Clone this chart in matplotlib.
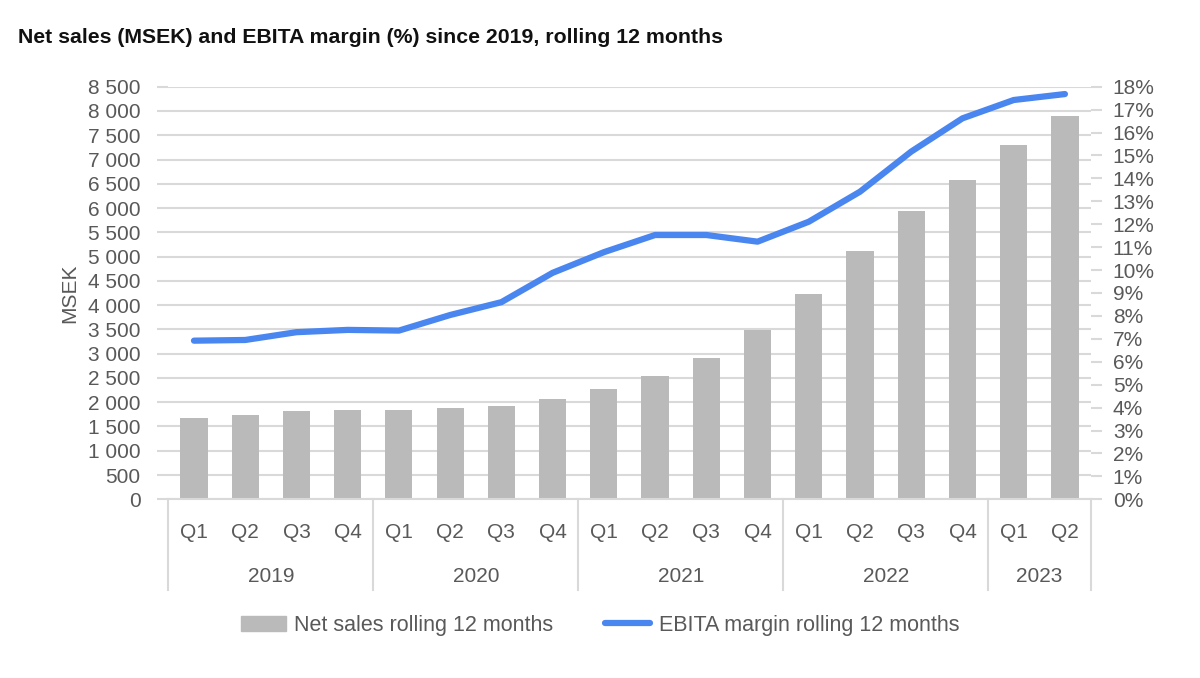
import numpy as np
import matplotlib
matplotlib.use('Agg')
import matplotlib.pyplot as plt
from matplotlib.ticker import FuncFormatter, MultipleLocator
from matplotlib.lines import Line2D
from matplotlib.patches import Patch

years = ['2019', '2020', '2021', '2022', '2023']
quarters = ['Q1', 'Q2', 'Q3', 'Q4'] * 4 + ['Q1', 'Q2']
quarters_per_year = [4, 4, 4, 4, 2]
net_sales = [1669, 1737, 1813, 1833, 1846, 1875, 1922, 2072, 2266,
             2546, 2917, 3488, 4236, 5115, 5946, 6572, 7293, 7903]
ebita_margin = [6.92, 6.95, 7.29, 7.39, 7.36, 8.04, 8.6, 9.88, 10.78,
                11.53, 11.53, 11.24, 12.11, 13.42, 15.17, 16.62, 17.42, 17.68]

bar_color = '#bababa'
line_color = '#4a86f0'
grid_color = '#d9d9d9'
text_color = '#595959'

plt.rcParams['font.family'] = ['Liberation Sans', 'DejaVu Sans']

fig = plt.figure(figsize=(12, 6.78), dpi=100)
ax = fig.add_axes([0.1403, 0.2636, 0.7685, 0.6085])
ax2 = ax.twinx()

x = np.arange(len(net_sales))
ax.bar(x, net_sales, width=0.53, color=bar_color, zorder=2)
ax2.plot(x, ebita_margin, color=line_color, linewidth=4.5,
         solid_capstyle='round', solid_joinstyle='round', zorder=3)

ax.set_xlim(-0.5, len(x) - 0.5)
ax.set_ylim(0, 8500)
ax2.set_ylim(0, 18)
ax.yaxis.set_major_locator(MultipleLocator(500))
ax2.yaxis.set_major_locator(MultipleLocator(1))
ax.yaxis.set_major_formatter(FuncFormatter(lambda v, p: f'{int(v):,}'.replace(',', ' ')))
ax2.yaxis.set_major_formatter(FuncFormatter(lambda v, p: f'{int(round(v))}%'))

ax.grid(axis='y', color=grid_color, linewidth=1.5, zorder=0)
ax.set_axisbelow(True)
for a in (ax, ax2):
    for s in a.spines.values():
        s.set_visible(False)
ax.spines['bottom'].set_visible(True)
ax.spines['bottom'].set_color(grid_color)
ax.spines['bottom'].set_linewidth(1.5)

ax.tick_params(axis='y', length=8, color=grid_color, width=1.5, pad=12,
               labelsize=15, labelcolor=text_color)
ax2.tick_params(axis='y', length=8, color=grid_color, width=1.5, pad=8,
                labelsize=15, labelcolor=text_color)
ax.set_xticks([])

ax.set_ylabel('MSEK', fontsize=15, color=text_color, labelpad=6)

# multi-level category axis
trans = ax.get_xaxis_transform()
for i, q in enumerate(quarters):
    ax.text(i, -0.08, q, transform=trans, ha='center', va='center',
            fontsize=15, color=text_color)
bounds = np.concatenate([[0], np.cumsum(quarters_per_year)]) - 0.5
for b in bounds:
    ax.add_line(Line2D([b, b], [0, -0.22], transform=trans, color=grid_color,
                       linewidth=1.5, clip_on=False))
for y, lo, hi in zip(years, bounds[:-1], bounds[1:]):
    ax.text((lo + hi) / 2, -0.187, y, transform=trans, ha='center', va='center',
            fontsize=15, color=text_color)

fig.text(0.015, 0.945, 'Net sales (MSEK) and EBITA margin (%) since 2019, rolling 12 months',
         fontsize=15.3, fontweight='bold', color='#111111', ha='left', va='center')

handles = [Patch(color=bar_color), Line2D([], [], color=line_color, linewidth=4.5,
                                          solid_capstyle='round')]
fig.legend(handles, ['Net sales rolling 12 months', 'EBITA margin rolling 12 months'],
           loc='center', bbox_to_anchor=(0.5, 0.078), ncol=2, frameon=False,
           fontsize=15.5, labelcolor=text_color, handlelength=2.1, handletextpad=0.4,
           columnspacing=2.4)

fig.savefig('out.png', dpi=100)
